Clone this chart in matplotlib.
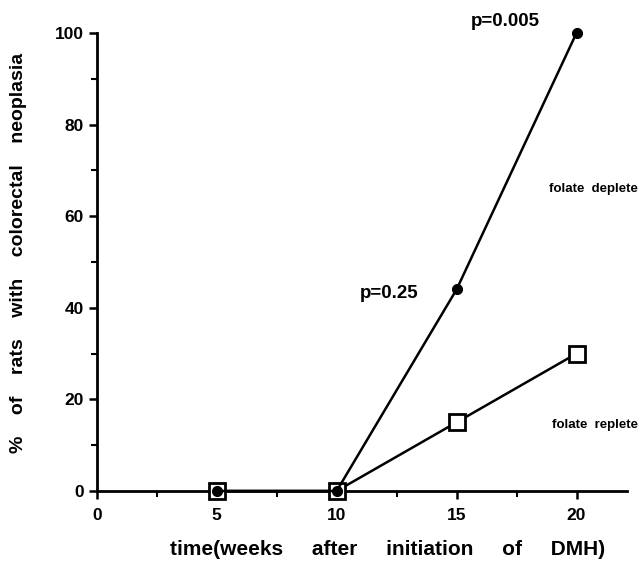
import matplotlib
matplotlib.use("Agg")
import matplotlib.pyplot as plt
from matplotlib.ticker import MultipleLocator

plt.rcParams['font.family'] = ['Liberation Sans', 'DejaVu Sans']
plt.rcParams['font.weight'] = 'bold'

weeks = [5, 10, 15, 20]
deplete = [0, 0, 44, 100]
replete = [0, 0, 15, 30]

x_ticks = [0, 5, 10, 15, 20]
y_ticks = [0, 20, 40, 60, 80, 100]

fig = plt.figure(figsize=(6.41, 5.85), dpi=100)
ax = fig.add_axes([0.151, 0.1607, 0.827, 0.783])

ax.plot(weeks, replete, color='black', lw=1.8, marker='s', ms=12,
        mfc='white', mec='black', mew=2, clip_on=False, zorder=3)
ax.plot(weeks, deplete, color='black', lw=1.8, marker='o', ms=7,
        mfc='black', mec='black', clip_on=False, zorder=4)

ax.set_xlim(0, 22.1)
ax.set_ylim(0, 100)
ax.set_xticks(x_ticks)
ax.set_yticks(y_ticks)
ax.xaxis.set_minor_locator(MultipleLocator(2.5))
ax.yaxis.set_minor_locator(MultipleLocator(10))
ax.tick_params(which='major', direction='out', length=6, width=1.8, labelsize=12.5)
ax.tick_params(which='minor', direction='out', length=4, width=1.5)
ax.tick_params(axis='x', pad=6)

for s in ['top', 'right']:
    ax.spines[s].set_visible(False)
for s in ['left', 'bottom']:
    ax.spines[s].set_linewidth(2)

ax.text(15.6, 102.4, 'p=0.005', fontsize=13.5, ha='left', va='center', clip_on=False)
ax.text(10.96, 43.2, 'p=0.25', fontsize=13.5, ha='left', va='center')
ax.text(22.55, 66, 'folate  deplete', fontsize=9.5, ha='right', va='center', clip_on=False)
ax.text(22.55, 14.4, 'folate  replete', fontsize=9.5, ha='right', va='center', clip_on=False)

ax.set_ylabel('%    of    rats    with    colorectal    neoplasia', fontsize=14,
              fontweight='bold')
ax.yaxis.set_label_coords(-0.132, 0.52)
ax.set_xlabel('time(weeks     after     initiation     of     DMH)', fontsize=15,
              fontweight='bold')
ax.xaxis.set_label_coords(0.549, -0.107)

fig.savefig('out.png', dpi=100)
